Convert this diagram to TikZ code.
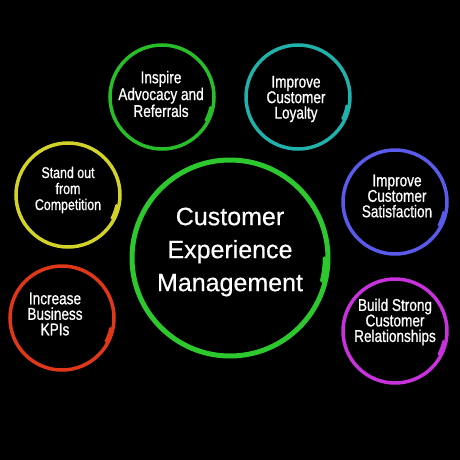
\documentclass[tikz,border=0pt]{standalone}
\usepackage{fontspec}
\usetikzlibrary{calc}
\setmainfont{Liberation Sans}
\newfontfamily\narrowfont[FakeStretch=0.8,FakeBold=0.8]{Liberation Sans}
\newfontfamily\mainfont[FakeBold=0.5]{Liberation Sans}
\definecolor{cgreen}{RGB}{45,200,45}
\definecolor{igreen}{RGB}{40,190,40}
\definecolor{cteal}{RGB}{32,178,170}
\definecolor{cyellow}{RGB}{210,210,40}
\definecolor{cred}{RGB}{225,55,25}
\definecolor{cblue}{RGB}{90,90,235}
\definecolor{cmag}{RGB}{200,50,220}
\tikzset{
  ring/.style={draw=#1, line width=3.5pt},
  tail/.style={draw=#1, line width=2.5pt, line cap=round},
  smalltxt/.style={text=white, align=center, font=\narrowfont\fontsize{17}{15.5}\selectfont},
  maintxt/.style={text=white, align=center, font=\mainfont\fontsize{25}{33}\selectfont},
}
\begin{document}
\begin{tikzpicture}[x=1pt,y=-1pt]
\fill[black] (0,0) rectangle (460,460);
\useasboundingbox (0,0) rectangle (460,460);
% main
\coordinate (cm) at (230,258);
\draw[ring=cgreen, line width=5pt] (cm) circle[radius=98];
\draw[tail=cgreen, line width=3.5pt] ($(cm)+(0:94.5)$) arc[start angle=0, end angle=14, radius=94.5];
\node[maintxt] (main) at (230,252) {Customer\\Experience\\Management};
% inspire
\coordinate (c1) at (162,97);
\draw[ring=igreen] (c1) circle[radius=52];
\draw[tail=igreen] ($(c1)+(12:49.5)$) arc[start angle=12, end angle=28, radius=49.5];
\node[smalltxt] (t1) at (161,94) {Inspire\\Advocacy and\\Referrals};
% loyalty
\coordinate (c2) at (298,97);
\draw[ring=cteal] (c2) circle[radius=52];
\draw[tail=cteal] ($(c2)+(10:49.5)$) arc[start angle=10, end angle=26, radius=49.5];
\node[smalltxt] (t2) at (296,99) {Improve\\Customer\\Loyalty};
% stand out
\coordinate (c3) at (68,195);
\draw[ring=cyellow] (c3) circle[radius=52];
\draw[tail=cyellow] ($(c3)+(12:49.5)$) arc[start angle=12, end angle=28, radius=49.5];
\node[smalltxt, font=\narrowfont\fontsize{15.5}{16}\selectfont] (t3) at (68,190) {Stand out\\from\\Competition};
% KPIs
\coordinate (c4) at (62,318);
\draw[ring=cred] (c4) circle[radius=52];
\draw[tail=cred] ($(c4)+(12:49.5)$) arc[start angle=12, end angle=28, radius=49.5];
\node[smalltxt] (t4) at (55,314) {Increase\\Business\\KPIs};
% satisfaction
\coordinate (c5) at (395,202);
\draw[ring=cblue] (c5) circle[radius=52];
\draw[tail=cblue] ($(c5)+(12:49.5)$) arc[start angle=12, end angle=28, radius=49.5];
\node[smalltxt] (t5) at (397,196) {Improve\\Customer\\Satisfaction};
% relationships
\coordinate (c6) at (395,331);
\draw[ring=cmag] (c6) circle[radius=52];
\draw[tail=cmag] ($(c6)+(12:49.5)$) arc[start angle=12, end angle=28, radius=49.5];
\node[smalltxt] (t6) at (395,322) {Build Strong\\Customer\\Relationships};
\end{tikzpicture}
\end{document}
